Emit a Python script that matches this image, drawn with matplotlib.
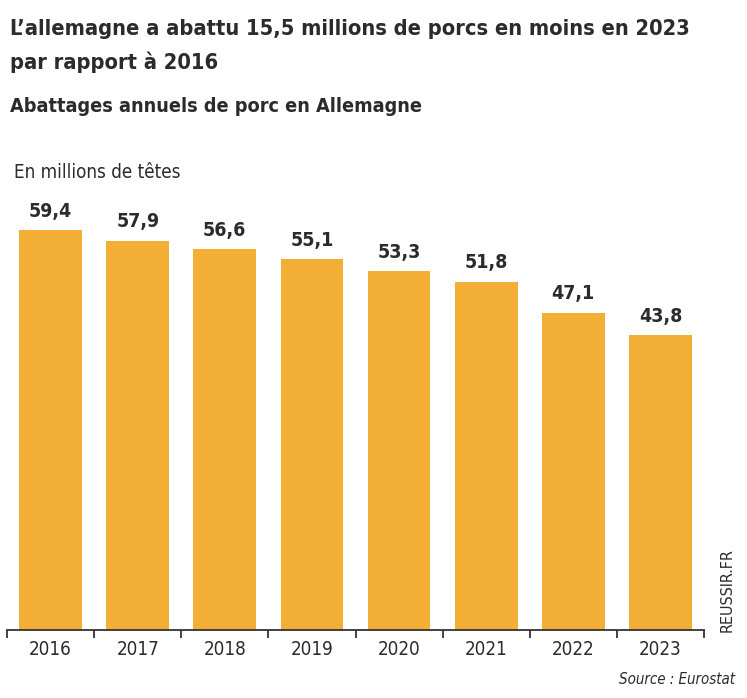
import matplotlib
matplotlib.use("Agg")
import matplotlib.pyplot as plt
from matplotlib import font_manager
import numpy as np

# data
years = ['2016', '2017', '2018', '2019', '2020', '2021', '2022', '2023']
slaughter = [59.4, 57.9, 56.6, 55.1, 53.3, 51.8, 47.1, 43.8]
value_labels = ['59,4', '57,9', '56,6', '55,1', '53,3', '51,8', '47,1', '43,8']

title_lines = ["L\u2019allemagne a abattu 15,5 millions de porcs en moins en 2023",
               "par rapport \u00e0 2016"]
subtitle = "Abattages annuels de porc en Allemagne"
unit = "En millions de t\u00eates"
source = "Source : Eurostat"
credit = "REUSSIR.FR"

# pick a narrow font if one is installed
names = {f.name for f in font_manager.fontManager.ttflist}
font = 'Liberation Sans Narrow' if 'Liberation Sans Narrow' in names else 'DejaVu Sans'
stretch = 'normal' if font == 'Liberation Sans Narrow' else 'condensed'
plt.rcParams['font.family'] = [font, 'DejaVu Sans']
plt.rcParams['font.stretch'] = stretch

bar_color = '#F2AE35'
text_color = '#2b2b2b'

W, H = 747, 698
fig = plt.figure(figsize=(W / 100, H / 100), dpi=100)
fig.patch.set_facecolor('white')

# axes box in pixels: x 7..704, y 180..630 (from top)
ax = fig.add_axes([7 / W, (H - 630) / H, 697 / W, 450 / H])
x = np.arange(len(years))
ax.bar(x, slaughter, width=0.72, color=bar_color, zorder=2)
ax.set_xlim(-0.5, len(years) - 0.5)
ax.set_ylim(0, 66.9)

for xi, v, lab in zip(x, slaughter, value_labels):
    ax.annotate(lab, (xi, v), xytext=(0, 7), textcoords='offset points',
                ha='center', va='bottom', fontsize=14, fontweight='bold',
                color=text_color)

for s in ['top', 'right', 'left']:
    ax.spines[s].set_visible(False)
ax.spines['bottom'].set_color('#333333')
ax.spines['bottom'].set_linewidth(1.3)
ax.set_yticks([])
ax.set_xticks(x)
ax.set_xticklabels(years, fontsize=13.5, color=text_color)
ax.tick_params(axis='x', which='major', length=0, pad=7)
ax.set_xticks(np.arange(-0.5, len(years)), minor=True)
ax.tick_params(axis='x', which='minor', length=6, width=1.3, color='#333333', direction='out')

fig.text(10 / W, 1 - 29 / H, title_lines[0], ha='left', va='center', fontsize=15.7,
         fontweight='bold', color=text_color)
fig.text(10 / W, 1 - 62 / H, title_lines[1], ha='left', va='center', fontsize=15.7,
         fontweight='bold', color=text_color)
fig.text(10 / W, 1 - 107 / H, subtitle, ha='left', va='center', fontsize=14.2,
         fontweight='bold', color=text_color)
fig.text(14 / W, 1 - 173 / H, unit, ha='left', va='center', fontsize=13.5,
         color=text_color)
fig.text(735 / W, 1 - 680 / H, source, ha='right', va='center', fontsize=10.8,
         style='italic', color=text_color)
fig.text(727 / W, 1 - 590 / H, credit, ha='center', va='center', fontsize=11.5,
         rotation=90, color=text_color)

fig.savefig('out.png', dpi=100, facecolor='white')
